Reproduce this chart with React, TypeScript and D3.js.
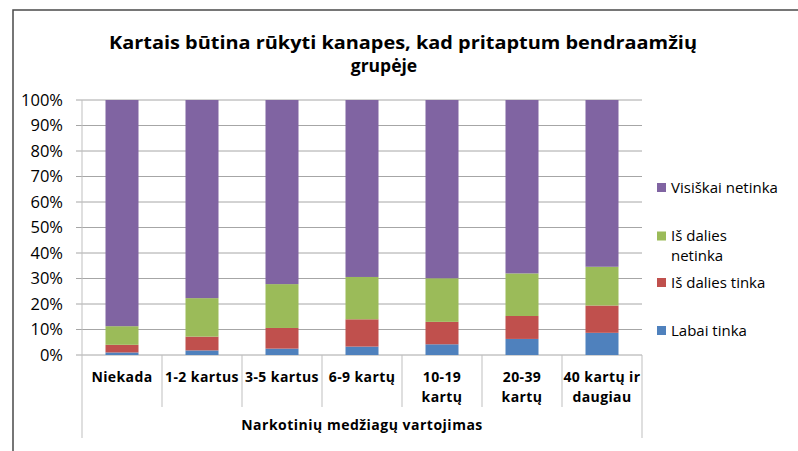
import React from 'react';
import * as d3 from 'd3';

// data (percent of each group)
const categories = ['Niekada', '1-2 kartus', '3-5 kartus', '6-9 kartų', '10-19\nkartų', '20-39\nkartų', '40 kartų ir\ndaugiau'];
const seriesNames = ['Labai tinka', 'Iš dalies tinka', 'Iš dalies\nnetinka', 'Visiškai netinka'];
const labaiTinka = [1.0, 1.8, 2.5, 3.3, 4.2, 6.3, 8.7];
const isDaliesTinka = [3.0, 5.4, 8.1, 10.7, 8.8, 9.0, 10.7];
const isDaliesNetinka = [7.3, 15.1, 17.2, 16.6, 17.1, 16.7, 15.2];
const visiskaiNetinka = [88.7, 77.7, 72.2, 69.4, 69.9, 68.0, 65.4];
const yTicks = [0, 10, 20, 30, 40, 50, 60, 70, 80, 90, 100];
const colors = ['#4F81BD', '#C0504D', '#9BBB59', '#8064A2'];

const title = ['Kartais būtina rūkyti kanapes, kad pritaptum bendraamžių', 'grupėje'];
const axisTitle = 'Narkotinių medžiagų vartojimas';

const FONT = '"Open Sans", "DejaVu Sans", sans-serif';

const App = () => {
  const W = 798, H = 451;
  const plot = { left: 82, right: 642, top: 100, bottom: 355 };

  const rows = categories.map((c, i) => ({
    cat: c,
    s0: labaiTinka[i],
    s1: isDaliesTinka[i],
    s2: isDaliesNetinka[i],
    s3: visiskaiNetinka[i],
  }));
  const stack = d3.stack<any>().keys(['s0', 's1', 's2', 's3'])(rows);

  const x = d3.scaleBand().domain(categories).range([plot.left, plot.right]).paddingInner(0.5875).paddingOuter(0.29375);
  const xCell = d3.scaleBand().domain(categories).range([plot.left, plot.right]).padding(0);
  const y = d3.scaleLinear().domain([0, 100]).range([plot.bottom, plot.top]);

  // legend order top→bottom is reversed series
  const legendY = [330.5, 282.5, 236, 187.5];

  return (
    <svg width={W} height={H} style={{ position: 'absolute', left: 0, top: 0, background: '#fff' }} fontFamily={FONT}>
      <rect x={13} y={10} width={900} height={600} fill="#fff" stroke="#4a4a4a" strokeWidth={1.5} />

      <text x={403} y={49} textAnchor="middle" fontSize={17.5} fontWeight="bold" fill="#000"
        textLength={588} lengthAdjust="spacingAndGlyphs">{title[0]}</text>
      <text x={384} y={72} textAnchor="middle" fontSize={17.5} fontWeight="bold" fill="#000">{title[1]}</text>

      {/* gridlines */}
      {yTicks.map(t => (
        <g key={t}>
          <line x1={plot.left - 6} x2={plot.right} y1={y(t)} y2={y(t)} stroke="#a6a6a6" strokeWidth={1} />
          <text x={63} y={y(t) + 5.5} textAnchor="end" fontSize={16.5} fill="#000">{t}%</text>
        </g>
      ))}
      <line x1={plot.left} x2={plot.left} y1={plot.top} y2={plot.bottom} stroke="#bfbfbf" />

      {/* bars */}
      {stack.map((layer, si) => (
        <g key={si} fill={colors[si]}>
          {layer.map((d, i) => (
            <rect key={i} x={x(categories[i])} width={x.bandwidth()} y={y(d[1])} height={y(d[0]) - y(d[1])} />
          ))}
        </g>
      ))}

      {/* category axis */}
      {categories.map((c, i) => (
        <line key={'t' + i} x1={xCell(c)} x2={xCell(c)} y1={plot.bottom} y2={i === 0 ? 438 : 407} stroke="#bfbfbf" />
      ))}
      <line x1={plot.right} x2={plot.right} y1={plot.bottom} y2={438} stroke="#bfbfbf" />
      {categories.map((c, i) => (
        <text key={'c' + i} x={xCell(c)! + xCell.bandwidth() / 2} y={382} textAnchor="middle" fontSize={14} fontWeight="bold" letterSpacing={0.4} fill="#000">
          {c.split('\n').map((l, j) => (
            <tspan key={j} x={xCell(c)! + xCell.bandwidth() / 2} dy={j === 0 ? 0 : 19.5}>{l}</tspan>
          ))}
        </text>
      ))}
      <text x={(plot.left + plot.right) / 2} y={430} textAnchor="middle" fontSize={14} fontWeight="bold" letterSpacing={0.5} fill="#000">{axisTitle}</text>

      {/* legend */}
      {seriesNames.map((n, i) => (
        <g key={n}>
          <rect x={657} y={legendY[i] - 4.5} width={9} height={9} fill={colors[i]} />
          <text x={671} y={legendY[i] + 5} fontSize={15} fill="#000">
            {n.split('\n').map((l, j) => (
              <tspan key={j} x={671} dy={j === 0 ? 0 : 19.5}>{l}</tspan>
            ))}
          </text>
        </g>
      ))}
    </svg>
  );
};

export default App;
